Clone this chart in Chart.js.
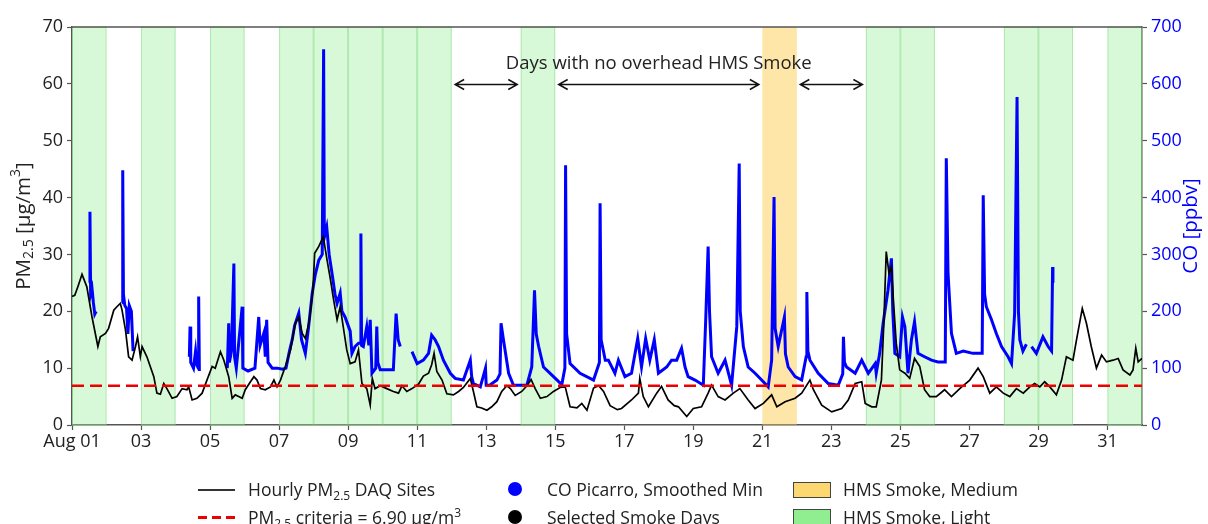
<!DOCTYPE html>
<html>
<head>
<meta charset="utf-8">
<script src="https://cdn.jsdelivr.net/npm/chart.js@4.4.0/dist/chart.umd.min.js"></script>
<style>
	body { margin: 0; background: #fff; }
	#wrap { position: absolute; left: 0; top: 0; width: 1208px; height: 524px; overflow: hidden; font-family: "Open Sans", sans-serif; }
	.leg { position: absolute; font-size: 17.5px; color: #222; white-space: nowrap; line-height: 20px; }
	.leg sub { font-size: 12px; vertical-align: -4px; line-height: 0; }
	.leg sup { font-size: 12px; vertical-align: 7px; line-height: 0; }
	.mk { position: absolute; }
</style>
</head>
<body>
<div id="wrap">
	<canvas id="chart" width="1208" height="524"></canvas>

	<!-- legend, 3 columns x 2 rows -->
	<div class="mk" style="left:198px; top:489px; width:37px; height:1.5px; background:#333"></div>
	<div class="leg" style="left:248px; top:479px">Hourly PM<sub>2.5</sub> DAQ Sites</div>
	<div class="mk" style="left:198px; top:516px; width:37px; height:2.5px; background:repeating-linear-gradient(90deg, #e00 0 9px, transparent 9px 14px)"></div>
	<div class="leg" style="left:248px; top:507px">PM<sub>2.5</sub> criteria = 6.90 μg/m<sup>3</sup></div>

	<div class="mk" style="left:508px; top:482px; width:14px; height:14px; border-radius:50%; background:#00f"></div>
	<div class="leg" style="left:547px; top:479px">CO Picarro, Smoothed Min</div>
	<div class="mk" style="left:508px; top:510px; width:14px; height:14px; border-radius:50%; background:#000"></div>
	<div class="leg" style="left:547px; top:507px">Selected Smoke Days</div>

	<div class="mk" style="left:793px; top:482px; width:36px; height:14px; border:1px solid #444; background:#fdd870"></div>
	<div class="leg" style="left:843px; top:479px">HMS Smoke, Medium</div>
	<div class="mk" style="left:793px; top:509px; width:36px; height:14px; border:1px solid #444; background:#90ee90"></div>
	<div class="leg" style="left:843px; top:507px">HMS Smoke, Light</div>
</div>

<script type="text/javascript">
	// x axis: day of August (32 = Sep 01)
	var xTicks = [1, 3, 5, 7, 9, 11, 13, 15, 17, 19, 21, 23, 25, 27, 29, 31];
	var xTickLabels = ['Aug 01', '03', '05', '07', '09', '11', '13', '15', '17', '19', '21', '23', '25', '27', '29', '31'];

	// HMS smoke days (start of each 1-day band)
	var lightSmokeDays = [1, 3, 5, 7, 8, 9, 10, 11, 14, 24, 25, 28, 29, 31];
	var mediumSmokeDays = [21];

	// selected smoke days (dots above the plot)
	var selectedDays = [1.5, 3.5, 5.5, 7.5, 8.5, 9.5, 11.5, 24.5, 25.5, 29.5, 31.5];

	var pmCriteria = 6.9;

	// "no overhead smoke" arrows
	var arrowFrom = [12.1, 15.1, 22.1];
	var arrowTo = [13.9, 20.9, 23.9];
	var arrowLevel = 60;
	var noSmokeText = 'Days with no overhead HMS Smoke';
	var noSmokeTextDay = 18.0;
	var noSmokeTextLevel = 63.6;

	// hourly PM2.5 (ug/m3)
	var pmDays = [1.00, 1.08, 1.18, 1.29, 1.43, 1.58, 1.75, 1.82, 1.97, 2.06, 2.21, 2.30, 2.40, 2.45, 2.55, 2.64, 2.74, 2.84, 2.90, 2.98,
		3.03, 3.17, 3.37, 3.46, 3.56, 3.66, 3.75, 3.90, 4.04, 4.19, 4.33, 4.38, 4.48, 4.62, 4.77, 4.91, 5.06, 5.15, 5.30, 5.40,
		5.54, 5.64, 5.73, 5.83, 5.93, 6.02, 6.17, 6.27, 6.36, 6.46, 6.60, 6.75, 6.85, 6.94, 7.04, 7.18, 7.33, 7.47, 7.57, 7.67,
		7.76, 7.88, 7.98, 8.03, 8.15, 8.28, 8.39, 8.49, 8.58, 8.68, 8.77, 8.96, 9.06, 9.20, 9.30, 9.40, 9.54, 9.64, 9.70, 9.78,
		9.93, 10.12, 10.31, 10.46, 10.56, 10.70, 10.85, 11.04, 11.18, 11.33, 11.42, 11.49, 11.57, 11.72, 11.86, 12.05, 12.20, 12.34, 12.54, 12.63,
		12.73, 12.87, 13.02, 13.16, 13.31, 13.45, 13.60, 13.70, 13.84, 14.03, 14.18, 14.30, 14.42, 14.57, 14.76, 14.95, 15.14, 15.29, 15.43, 15.63,
		15.77, 15.92, 16.11, 16.26, 16.40, 16.59, 16.80, 16.92, 17.21, 17.41, 17.45, 17.55, 17.70, 17.94, 18.08, 18.27, 18.45, 18.57, 18.81, 19.00,
		19.24, 19.43, 19.53, 19.72, 19.92, 20.16, 20.35, 20.59, 20.79, 21.03, 21.27, 21.42, 21.66, 21.95, 22.14, 22.38, 22.48, 22.72, 23.01, 23.30,
		23.49, 23.69, 23.88, 23.98, 24.17, 24.30, 24.45, 24.52, 24.59, 24.67, 24.74, 24.81, 24.88, 24.98, 25.13, 25.27, 25.41, 25.56, 25.70, 25.85,
		26.04, 26.28, 26.48, 26.72, 27.01, 27.25, 27.40, 27.59, 27.78, 27.98, 28.17, 28.36, 28.56, 28.75, 28.89, 29.04, 29.18, 29.33, 29.52, 29.67,
		29.81, 30.00, 30.10, 30.27, 30.39, 30.53, 30.68, 30.83, 30.97, 31.16, 31.31, 31.45, 31.65, 31.74, 31.82, 31.89, 32.00];
	var pmVals = [22.6, 22.8, 24.5, 26.5, 24.3, 19.0, 13.8, 15.5, 16.1, 17.0, 20.2, 20.8, 21.4, 20.2, 16.7, 12.0, 11.4, 13.8, 15.5, 12.0,
		13.8, 12.0, 8.5, 5.6, 5.4, 7.3, 6.4, 4.7, 5.0, 6.4, 6.2, 6.7, 4.4, 4.7, 5.6, 7.9, 10.3, 10.0, 12.9, 11.4,
		8.5, 4.7, 5.3, 5.0, 4.7, 6.2, 7.6, 8.5, 7.9, 6.4, 6.2, 6.7, 7.9, 6.7, 7.9, 10.3, 13.2, 17.9, 19.0, 16.1,
		15.2, 18.5, 23.7, 30.2, 31.4, 33.1, 29.0, 25.5, 22.0, 18.5, 20.8, 13.2, 10.8, 11.1, 13.2, 7.3, 6.4, 3.5, 8.2, 6.4,
		6.9, 6.4, 5.9, 5.6, 6.9, 5.9, 6.4, 7.2, 8.6, 9.1, 10.6, 12.6, 9.4, 7.9, 5.5, 5.3, 5.9, 6.6, 8.2, 5.9,
		3.2, 3.0, 2.6, 3.2, 4.1, 5.9, 6.9, 6.4, 5.2, 5.9, 6.9, 8.0, 6.4, 4.7, 5.0, 5.9, 6.6, 6.7, 3.2, 3.0,
		3.8, 2.6, 6.5, 6.9, 5.9, 3.4, 2.7, 2.9, 4.4, 5.6, 8.2, 5.0, 3.2, 5.6, 6.8, 4.4, 3.4, 3.2, 1.5, 2.9,
		3.2, 5.6, 7.0, 5.0, 4.4, 5.6, 6.4, 4.4, 2.9, 3.8, 5.3, 3.2, 4.1, 4.7, 5.6, 7.9, 6.2, 3.5, 2.3, 2.9,
		4.4, 7.3, 7.6, 3.8, 3.2, 3.2, 7.9, 17.9, 30.5, 26.7, 27.8, 20.8, 14.4, 9.7, 9.1, 8.2, 11.7, 10.3, 6.2, 5.0,
		5.0, 6.2, 5.0, 6.4, 7.9, 10.0, 8.5, 5.6, 6.7, 5.6, 5.0, 6.4, 5.6, 6.7, 7.3, 6.7, 7.6, 6.7, 5.3, 7.9,
		12.0, 11.4, 14.9, 20.5, 17.9, 13.8, 10.0, 12.3, 11.1, 11.4, 11.7, 9.7, 8.8, 9.7, 13.5, 11.1, 11.7];

	// CO Picarro smoothed min (ppbv), null = no data
	var coDays = [1.50, 1.52, 1.54, 1.58, 1.62, 1.66, 1.70, 1.72,
		2.45, 2.47, 2.49, 2.53, 2.58, 2.62, 2.66, 2.72, 2.77, 2.80,
		4.40, 4.42, 4.44, 4.52, 4.58, 4.62, 4.66, 4.67, 4.69, 4.72,
		5.50, 5.54, 5.56, 5.62, 5.69, 5.71, 5.76, 5.93, 5.95, 6.10, 6.30, 6.41, 6.45, 6.56, 6.60, 6.64, 6.68, 6.80, 6.95, 7.10, 7.20, 7.30,
		7.38, 7.45, 7.57, 7.65, 7.76, 7.85, 7.96, 8.05, 8.15, 8.25, 8.29, 8.31, 8.38, 8.45, 8.55, 8.62, 8.68, 8.77, 8.82, 8.91,
		9.06, 9.11, 9.20, 9.30, 9.36, 9.37, 9.39, 9.44, 9.54, 9.60, 9.64, 9.69, 9.80, 9.83, 9.86, 9.93, 10.31, 10.39, 10.45, 10.51, 10.55,
		10.85, 11.00, 11.18, 11.33, 11.42, 11.52, 11.62, 11.76, 11.96, 12.10, 12.34, 12.54, 12.58, 12.63, 12.83, 12.98, 13.00, 13.10, 13.31, 13.40,
		13.43, 13.50, 13.65, 13.79, 14.18, 14.32, 14.40, 14.45, 14.52, 14.66, 14.95, 15.19, 15.28, 15.30, 15.33, 15.43, 15.72, 16.11, 16.28, 16.30,
		16.33, 16.45, 16.54, 16.73, 16.83, 17.02, 17.21, 17.39, 17.50, 17.62, 17.74, 17.87, 17.99, 18.23, 18.37, 18.52, 18.66, 18.76, 18.85, 19.05,
		19.29, 19.36, 19.43, 19.47, 19.53, 19.72, 19.92, 20.11, 20.26, 20.33, 20.36, 20.45, 20.59, 20.79, 20.98, 21.17, 21.27, 21.34, 21.37, 21.46,
		21.64, 21.67, 21.75, 21.95, 22.14, 22.27, 22.29, 22.32, 22.38, 22.62, 22.91, 23.20, 23.33, 23.35, 23.38, 23.44, 23.69, 23.88, 24.07, 24.27,
		24.30, 24.40, 24.50, 24.64, 24.74, 24.78, 24.84, 24.98, 25.06, 25.13, 25.22, 25.32, 25.41, 25.51, 25.70, 25.90, 26.09, 26.30, 26.33, 26.38,
		26.48, 26.62, 26.82, 27.10, 27.37, 27.40, 27.44, 27.49, 27.64, 27.78, 27.93, 28.12, 28.22, 28.31, 28.38, 28.42, 28.46, 28.55, 28.65, 28.70,
		28.80, 28.94, 29.13, 29.28, 29.38, 29.41, 29.42];
	var coVals = [250, 375, 230, 240, 215, 195, 200, null,
		215, 448, 230, 210, 205, 160, 210, 200, 130, null,
		120, 173, 110, 100, 130, 105, 100, 226, 95, null,
		100, 179, 110, 130, 284, 120, 100, 208, 100, 95, 100, 190, 140, 162, 120, 185, 110, 100, 100, 98, 100, 130,
		150, 175, 197, 150, 126, 170, 232, 265, 290, 300, 661, 330, 348, 300, 260, 230, 214, 232, 200, 190,
		165, 126, 138, 144, 144, 337, 140, 138, 173, 140, 185, 91, 100, 173, 110, 97, 97, 196, 150, 138, null,
		129, 108, 114, 126, 158, 150, 138, 114, 91, 82, 79, 114, 85, 73, 67, 100, 70, 70, 79, 90,
		179, 150, 91, 70, 70, 102, 237, 160, 138, 102, 85, 71, 100, 457, 160, 108, 91, 79, 110, 390,
		150, 114, 114, 91, 114, 85, 91, 152, 102, 152, 114, 150, 91, 102, 114, 114, 135, 102, 85, 79,
		70, 185, 314, 200, 120, 91, 114, 70, 173, 460, 200, 138, 102, 91, 79, 67, 114, 401, 170, 138,
		190, 125, 102, 85, 79, 120, 234, 130, 114, 91, 73, 70, 90, 155, 110, 102, 91, 114, 91, 108,
		91, 126, 179, 237, 293, 200, 126, 120, 190, 173, 91, 150, 182, 126, 120, 114, 111, 111, 469, 267,
		161, 126, 130, 126, 126, 404, 230, 208, 185, 161, 138, 120, 108, 196, 577, 200, 150, 130, 142, null,
		138, 126, 155, 138, 130, 278, 250];

	var font = "'Open Sans', sans-serif";
	var lightFill = 'rgba(144, 238, 144, 0.35)';
	var lightEdge = 'rgba(120, 210, 120, 0.45)';
	var mediumFill = 'rgba(250, 200, 60, 0.45)';

	function xy(xs, ys) {
		var out = [];
		for (var i = 0; i < xs.length; i++) out.push({ x: xs[i], y: ys[i] });
		return out;
	}

	var bandsPlugin = {
		id: 'bands',
		beforeDatasetsDraw: function (chart) {
			var ctx = chart.ctx, a = chart.chartArea, x = chart.scales.x;
			ctx.save();
			function band(d, fill, edge) {
				var x0 = x.getPixelForValue(d), x1 = x.getPixelForValue(d + 1);
				ctx.fillStyle = fill;
				ctx.fillRect(x0, a.top, x1 - x0, a.bottom - a.top);
				if (edge) {
					ctx.strokeStyle = edge;
					ctx.lineWidth = 1;
					ctx.strokeRect(x0 + 0.5, a.top, x1 - x0 - 1, a.bottom - a.top);
				}
			}
			lightSmokeDays.forEach(function (d) { band(d, lightFill, lightEdge); });
			mediumSmokeDays.forEach(function (d) { band(d, mediumFill, null); });
			ctx.restore();
		}
	};

	var annotPlugin = {
		id: 'annot',
		afterDatasetsDraw: function (chart) {
			var ctx = chart.ctx, x = chart.scales.x, y = chart.scales.y;
			ctx.save();
			ctx.strokeStyle = '#111';
			ctx.lineWidth = 1.5;
			var py = Math.round(y.getPixelForValue(arrowLevel)) + 0.5;
			for (var i = 0; i < arrowFrom.length; i++) {
				var x0 = x.getPixelForValue(arrowFrom[i]), x1 = x.getPixelForValue(arrowTo[i]);
				ctx.beginPath();
				ctx.moveTo(x0, py); ctx.lineTo(x1, py);
				ctx.moveTo(x0 + 9, py - 5); ctx.lineTo(x0, py); ctx.lineTo(x0 + 9, py + 5);
				ctx.moveTo(x1 - 9, py - 5); ctx.lineTo(x1, py); ctx.lineTo(x1 - 9, py + 5);
				ctx.stroke();
			}
			ctx.fillStyle = '#222';
			ctx.font = '18.5px ' + font;
			ctx.textAlign = 'center';
			ctx.textBaseline = 'middle';
			ctx.fillText(noSmokeText, x.getPixelForValue(noSmokeTextDay), y.getPixelForValue(noSmokeTextLevel));
			ctx.restore();
		},
		afterDraw: function (chart) {
			var ctx = chart.ctx, a = chart.chartArea;
			ctx.save();
			// top spine
			ctx.strokeStyle = '#555';
			ctx.lineWidth = 1.5;
			ctx.beginPath();
			ctx.moveTo(a.left, a.top); ctx.lineTo(a.right, a.top);
			ctx.stroke();

			// axis titles with sub/superscripts
			function rotTitle(cx, cy, parts, color) {
				ctx.save();
				ctx.translate(cx, cy);
				ctx.rotate(-Math.PI / 2);
				ctx.fillStyle = color;
				ctx.textBaseline = 'middle';
				ctx.textAlign = 'left';
				var total = 0;
				parts.forEach(function (p) { ctx.font = p[1] + 'px ' + font; total += ctx.measureText(p[0]).width; });
				var px = -total / 2;
				parts.forEach(function (p) {
					ctx.font = p[1] + 'px ' + font;
					ctx.fillText(p[0], px, p[2]);
					px += ctx.measureText(p[0]).width;
				});
				ctx.restore();
			}
			var cy = (a.top + a.bottom) / 2;
			rotTitle(24, cy, [['PM', 20.5, 0], ['2.5', 14, 5], [' [μg/m', 20.5, 0], ['3', 14, -8], [']', 20.5, 0]], '#222');
			rotTitle(1191, cy, [['CO [ppbv]', 20.5, 0]], '#0000ff');
			ctx.restore();
		}
	};

	var ctx = document.getElementById('chart').getContext('2d');
	var chart = new Chart(ctx, {
		type: 'line',
		data: {
			datasets: [{
				label: 'CO Picarro, Smoothed Min',
				data: xy(coDays, coVals),
				yAxisID: 'y1',
				borderColor: '#0000ff',
				borderWidth: 3,
				pointRadius: 0,
				spanGaps: false,
				tension: 0,
				order: 3
			}, {
				label: 'Hourly PM2.5 DAQ Sites',
				data: xy(pmDays, pmVals),
				yAxisID: 'y',
				borderColor: '#000',
				borderWidth: 1.7,
				pointRadius: 0,
				tension: 0,
				order: 2
			}, {
				label: 'PM2.5 criteria',
				data: [{ x: 1, y: pmCriteria }, { x: 32, y: pmCriteria }],
				yAxisID: 'y',
				borderColor: '#ee0000',
				borderWidth: 2.5,
				borderDash: [12, 6],
				pointRadius: 0,
				order: 1
			}, {
				label: 'Selected Smoke Days',
				data: selectedDays.map(function (d) { return { x: d, y: 72.1 }; }),
				yAxisID: 'y',
				showLine: false,
				pointRadius: 7.5,
				pointBackgroundColor: '#000',
				pointBorderWidth: 0,
				clip: false,
				order: 0
			}]
		},
		options: {
			responsive: false,
			animation: false,
			events: [],
			layout: { padding: { left: 0, right: 0, top: 27, bottom: 69 } },
			plugins: { legend: { display: false }, tooltip: { enabled: false } },
			scales: {
				x: {
					type: 'linear',
					min: 1, max: 32,
					afterBuildTicks: function (s) { s.ticks = xTicks.map(function (v) { return { value: v }; }); },
					afterFit: function (s) { s.height = 30; },
					ticks: {
						autoSkip: false, maxRotation: 0, color: '#222', padding: 1,
						font: { family: font, size: 18 },
						callback: function (v) { return xTickLabels[xTicks.indexOf(v)]; }
					},
					grid: { drawOnChartArea: false, tickLength: 5, color: '#555', tickWidth: 1.2 },
					border: { color: '#555', width: 1.5 }
				},
				y: {
					position: 'left',
					min: 0, max: 70,
					afterFit: function (s) { s.width = 72; },
					ticks: { stepSize: 10, color: '#222', padding: 4, font: { family: font, size: 18 } },
					grid: { drawOnChartArea: false, tickLength: 5, color: '#555', tickWidth: 1.2 },
					border: { color: '#555', width: 1.5 }
				},
				y1: {
					position: 'right',
					min: 0, max: 700,
					afterFit: function (s) { s.width = 66; },
					ticks: { stepSize: 100, color: '#0000ff', padding: 4, font: { family: font, size: 18 } },
					grid: { drawOnChartArea: false, tickLength: 5, color: '#555', tickWidth: 1.2 },
					border: { color: '#555', width: 1.5 }
				}
			}
		},
		plugins: [bandsPlugin, annotPlugin]
	});
</script>
</body>
</html>
